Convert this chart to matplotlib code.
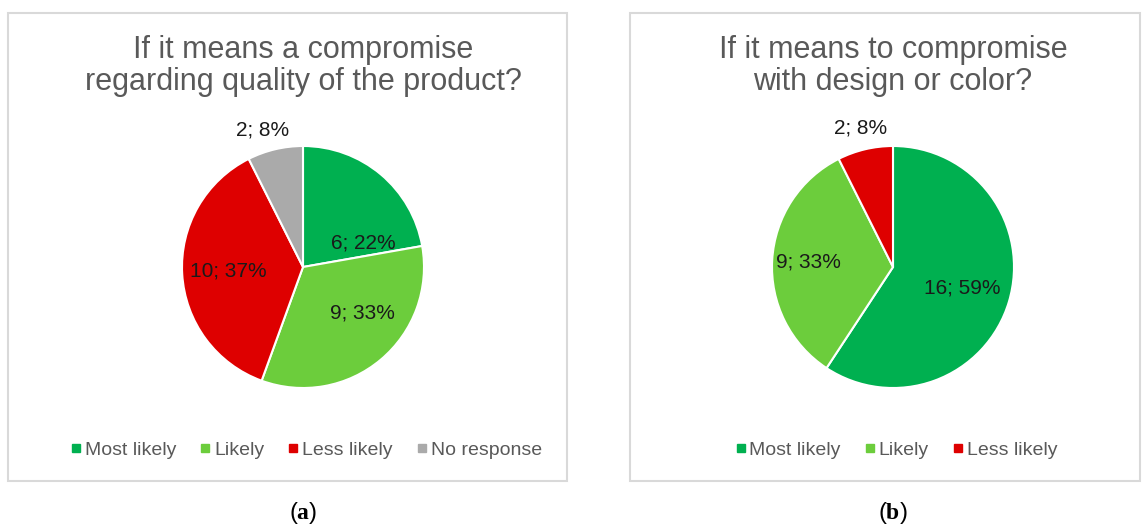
import matplotlib.pyplot as plt
from matplotlib.patches import Rectangle
from matplotlib.lines import Line2D
import numpy as np

# dados
categorias_a = ['Most likely', 'Likely', 'Less likely', 'No response']
valores_a = [6, 9, 10, 2]
percentuais_a = ['22%', '33%', '37%', '8%']

categorias_b = ['Most likely', 'Likely', 'Less likely']
valores_b = [16, 9, 2]
percentuais_b = ['59%', '33%', '8%']

titulo_a = 'If it means a compromise\nregarding quality of the product?'
titulo_b = 'If it means to compromise\nwith design or color?'

cores = {'Most likely': '#00B050', 'Likely': '#6CCD3C',
         'Less likely': '#DE0000', 'No response': '#AAAAAA'}

plt.rcParams['font.family'] = ['Liberation Sans', 'DejaVu Sans']
plt.rcParams['mathtext.fontset'] = 'custom'
plt.rcParams['mathtext.rm'] = 'Liberation Serif'
plt.rcParams['mathtext.bf'] = 'Liberation Serif:bold'

W, H = 1145, 527
fig = plt.figure(figsize=(W / 100, H / 100), dpi=100)


def px(x0, y0, w, h):
    # converte pixels (origem no topo) para fração da figura
    return [x0 / W, 1 - (y0 + h) / H, w / W, h / H]


def painel(caixa, centro, raio, titulo, categorias, valores, percentuais,
           pos_rotulos, centro_legenda, letra):
    x0, y0, x1, y1 = caixa
    fig.patches.append(Rectangle((x0 / W, 1 - y1 / H), (x1 - x0) / W, (y1 - y0) / H,
                                 transform=fig.transFigure, fill=False,
                                 edgecolor='#D9D9D9', linewidth=1.5))
    cx, cy = centro
    ax = fig.add_axes(px(cx - raio, cy - raio, 2 * raio, 2 * raio))
    cs = [cores[c] for c in categorias]
    wedges, _ = ax.pie(valores, colors=cs, startangle=90, counterclock=False,
                       wedgeprops=dict(edgecolor='white', linewidth=1.5))
    # rótulos: distância relativa ao raio e desvio do ângulo médio (graus)
    for w, v, p, (d, desvio) in zip(wedges, valores, percentuais, pos_rotulos):
        ang = np.deg2rad((w.theta1 + w.theta2) / 2 + desvio)
        ax.text(d * np.cos(ang), d * np.sin(ang), f'{v}; {p}', ha='center',
                va='center', fontsize=15, color='#1a1a1a', clip_on=False)
    ax.set_xlim(-1, 1)
    ax.set_ylim(-1, 1)
    ax.set_aspect('equal')
    ax.axis('off')

    fig.text(cx / W, 1 - 66 / H, titulo, ha='center', va='center', fontsize=22,
             color='#595959', linespacing=1.12)

    handles = [Line2D([], [], marker='s', linestyle='none', markersize=6,
                      markerfacecolor=cores[c], markeredgecolor=cores[c]) for c in categorias]
    fig.legend(handles, categorias, loc='center',
               bbox_to_anchor=(centro_legenda / W, 1 - 450 / H), ncol=len(categorias),
               frameon=False, fontsize=14, handlelength=0.6, handletextpad=0.15,
               columnspacing=1.2, labelcolor='#595959')

    fig.text(cx / W, 1 - 513 / H, r'($\mathbf{' + letra + r'}$)', ha='center',
             va='center', fontsize=17, color='black')


painel((8, 13, 567, 481), (303, 267), 121, titulo_a, categorias_a, valores_a,
       percentuais_a, [(0.54, -28), (0.62, 12), (0.62, 0), (1.18, 3)], 306, 'a')
painel((630, 13, 1140, 481), (893, 267), 121, titulo_b, categorias_b, valores_b,
       percentuais_b, [(0.6, 0), (0.7, 0), (1.18, 0)], 896, 'b')

fig.savefig('out.png', dpi=100, facecolor='white')
